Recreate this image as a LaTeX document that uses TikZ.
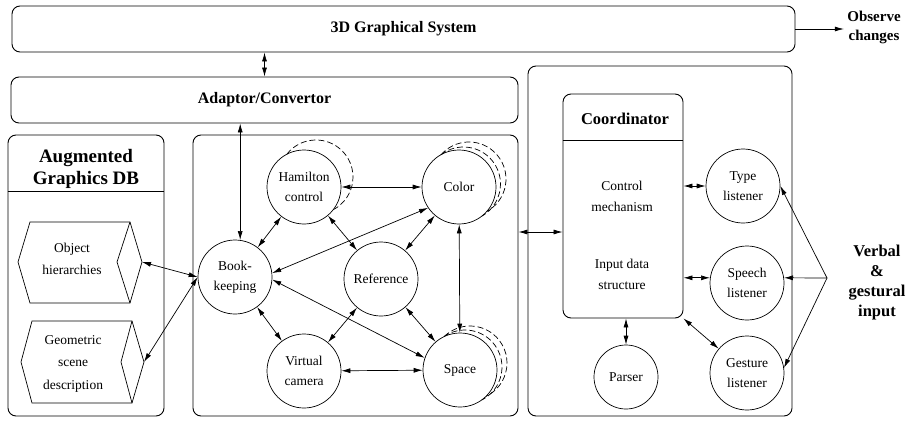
\documentclass[tikz,border=0pt]{standalone}
\usepackage{fontspec}
\setmainfont{Liberation Serif}
\usetikzlibrary{arrows.meta}

\begin{document}
\begin{tikzpicture}[x=1pt, y=1pt,
  frame/.style={draw, rounded corners=8pt, line width=0.9pt, inner sep=0pt},
  proc/.style={draw, circle, minimum size=74pt, inner sep=0pt, line width=0.7pt, align=center, font=\fontsize{13.5}{20}\selectfont},
  plain/.style={align=center, font=\fontsize{13.5}{21}\selectfont},
  head/.style={align=center, font=\fontsize{16}{20}\selectfont\bfseries},
  link/.style={<->, >={Latex[length=9pt,width=5pt]}, line width=0.7pt},
  feed/.style={->, >={Latex[length=9pt,width=5pt]}, line width=0.7pt},
  echo/.style={dash pattern=on 6pt off 3pt, line width=0.7pt}]
  \useasboundingbox (0,0) rectangle (909,421);

  % Frames
  \node[frame, head, minimum width=783pt, minimum height=46pt] (sys) at (403.5,392) {3D Graphical System};
  \node[frame, head, minimum width=507pt, minimum height=46pt] (adp) at (264.5,321) {Adaptor/Convertor};
  \node[frame, minimum width=156pt, minimum height=281pt] (db) at (86,145.5) {};
  \node[frame, minimum width=325pt, minimum height=281pt] (mid) at (355.5,145.5) {};
  \node[frame, minimum width=264pt, minimum height=350pt] (rgt) at (660,180) {};
  \node[frame, minimum width=120pt, minimum height=224pt] (crd) at (623,215) {};

  % Graphics database
  \node[align=center, font=\fontsize{19}{22}\selectfont\bfseries] (dbt) at (86,252) {Augmented\\Graphics DB};
  \draw[line width=0.7pt] (db.west |- 0,230) -- (db.east |- 0,230);
  \draw[line width=0.7pt] (30,199) -- (130,199) -- (142,159) -- (130,118) -- (30,118) -- (18,159) -- cycle;
  \draw[line width=0.7pt] (130,199) -- (117,159) -- (130,118);
  \draw[line width=0.7pt] (32,100) -- (132,100) -- (144,59) -- (132,18) -- (32,18) -- (21,59) -- cycle;
  \draw[line width=0.7pt] (132,100) -- (121,59) -- (132,18);
  \node[plain, font=\fontsize{13.5}{22}\selectfont] (obj) at (72,162) {Object\\hierarchies};
  \node[plain, font=\fontsize{13.5}{22.5}\selectfont] (geo) at (73,57.5) {Geometric\\scene\\description};
  \coordinate (obj-tip) at (142,159);
  \coordinate (geo-tip) at (144,59);

  % Graphics processes
  \node[proc] (ham) at (304,234) {Hamilton\\control};
  \node[proc] (col) at (459,234) {Color};
  \node[proc] (bk)  at (235,144) {Book-\\keeping};
  \node[proc] (ref) at (381,142) {Reference};
  \node[proc] (vc)  at (304,50)  {Virtual\\camera};
  \node[proc] (spc) at (460,51)  {Space};

  % Extra instances behind
  \draw[echo] (316,244) ++(142:37) arc[start angle=142, end angle=-62, radius=37pt];
  \draw[echo] (463.5,237) ++(128:37) arc[start angle=128, end angle=-60, radius=37pt];
  \draw[echo] (469,242) ++(139:37) arc[start angle=139, end angle=-61, radius=37pt];
  \draw[echo] (465,54) ++(125:37) arc[start angle=125, end angle=-63, radius=37pt];
  \draw[echo] (470,58) ++(134:37) arc[start angle=134, end angle=-64, radius=37pt];

  % Coordinator
  \node[font=\fontsize{16.5}{20}\selectfont\bfseries] (crdt) at (625,302) {Coordinator};
  \draw[line width=0.7pt] (crd.west |- 0,281) -- (crd.east |- 0,281);
  \node[plain] (ctl) at (622,224.5) {Control\\mechanism};
  \node[plain] (inp) at (622,147) {Input data\\structure};
  \node[proc] (typ) at (743,235) {Type\\listener};
  \node[proc] (sph) at (747,138) {Speech\\listener};
  \node[proc] (ges) at (747,48)  {Gesture\\listener};
  \node[proc, minimum size=64pt] (prs) at (626,44) {Parser};

  % Outside world
  \node[align=center, font=\fontsize{15}{19}\selectfont\bfseries] (obs) at (874,393.5) {Observe\\changes};
  \node[align=center, font=\fontsize{16.5}{20.3}\selectfont\bfseries] (vin) at (877,138.5) {Verbal\\\&\\gestural\\input};
  \coordinate (fan) at (827,143);

  % Connectors
  \draw[feed] (sys.east) -- (sys.east -| obs.west);
  \draw[link] (sys.south -| adp.north) -- (adp.north);
  \draw[link] (bk.82) -- (bk.82 |- adp.south);
  \draw[link] (obj-tip) -- (bk.west);
  \draw[link] (geo-tip) -- (bk.west);
  \draw[link] (ham) -- (col);
  \draw[link] (ham) -- (bk);
  \draw[link] (ham) -- (ref);
  \draw[link] (col.214) -- (bk.6);
  \draw[link] (col) -- (ref);
  \draw[link] (col) -- (spc);
  \draw[link] (bk) -- (vc);
  \draw[link] (bk.-4) -- (spc.161);
  \draw[link] (ref) -- (vc);
  \draw[link] (ref) -- (spc);
  \draw[link] (vc) -- (spc);
  \draw[link] ([yshift=-26pt]crd.west) -- ([yshift=-26pt]crd.west -| mid.east);
  \draw[link] (crd.east |- typ.west) -- (typ.west);
  \draw[link] (crd.east |- sph.172) -- (sph.172);
  \draw[link] (crd.south east) -- (ges);
  \draw[link] (crd.south -| prs.north) -- (prs.north);
  \draw[feed] (fan) -- (typ.east);
  \draw[feed] (fan) -- (sph.8);
  \draw[feed] (fan) -- (ges.8);
\end{tikzpicture}
\end{document}
